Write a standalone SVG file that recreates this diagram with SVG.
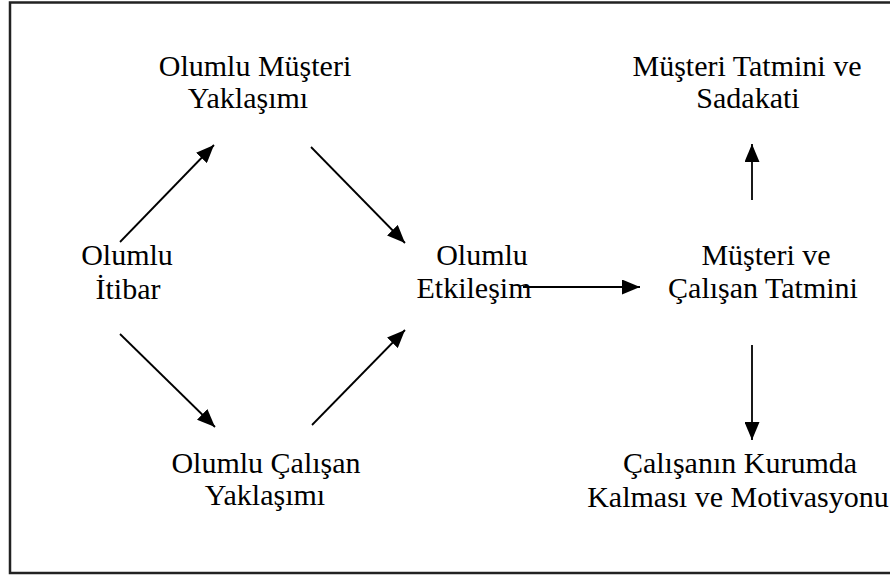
<svg xmlns="http://www.w3.org/2000/svg" width="890" height="578" viewBox="0 0 890 578">
  <style>
    .lbl { font-family: "Liberation Serif", "Times New Roman", serif; font-size: 30px; fill: #000; text-anchor: middle; }
    .edge { stroke: #000; stroke-width: 1.8; fill: none; marker-end: url(#head); }
  </style>
  <defs>
    <marker id="head" markerUnits="userSpaceOnUse" markerWidth="18" markerHeight="15" refX="18" refY="7.5" orient="auto">
      <path d="M0,0 L18,7.5 L0,15 z" fill="#000"/>
    </marker>
  </defs>

  <rect x="0" y="0" width="890" height="578" fill="#fff"/>
  <!-- frame (open on the right side) -->
  <rect x="10" y="2.5" width="900" height="570.5" fill="none" stroke="#222" stroke-width="2.5"/>

  <g id="connectors">
    <line class="edge" x1="120" y1="242" x2="214" y2="145"/>
    <line class="edge" x1="311" y1="147" x2="405" y2="243"/>
    <line class="edge" x1="120" y1="334" x2="215" y2="427"/>
    <line class="edge" x1="312" y1="425" x2="405" y2="330"/>
    <line class="edge" x1="523" y1="287" x2="640" y2="287"/>
    <line class="edge" x1="752" y1="200" x2="752" y2="144"/>
    <line class="edge" x1="752" y1="345" x2="752" y2="440"/>
  </g>

  <g id="olumlu-itibar">
    <text class="lbl" x="127" y="265">Olumlu</text>
    <text class="lbl" x="128" y="299">İtibar</text>
  </g>

  <g id="olumlu-musteri-yaklasimi">
    <text class="lbl" x="255" y="76">Olumlu Müşteri</text>
    <text class="lbl" x="248" y="108">Yaklaşımı</text>
  </g>

  <g id="olumlu-calisan-yaklasimi">
    <text class="lbl" x="266" y="473">Olumlu Çalışan</text>
    <text class="lbl" x="265" y="505">Yaklaşımı</text>
  </g>

  <g id="olumlu-etkilesim">
    <text class="lbl" x="482" y="265">Olumlu</text>
    <text class="lbl" x="474" y="298">Etkileşim</text>
  </g>

  <g id="musteri-ve-calisan-tatmini">
    <text class="lbl" x="766" y="265">Müşteri ve</text>
    <text class="lbl" x="763" y="298">Çalışan Tatmini</text>
  </g>

  <g id="musteri-tatmini-ve-sadakati">
    <text class="lbl" x="747" y="76">Müşteri Tatmini ve</text>
    <text class="lbl" x="748" y="108">Sadakati</text>
  </g>

  <g id="calisanin-kurumda-kalmasi">
    <text class="lbl" x="740" y="473">Çalışanın Kurumda</text>
    <text class="lbl" x="738" y="507">Kalması ve Motivasyonu</text>
  </g>
</svg>
